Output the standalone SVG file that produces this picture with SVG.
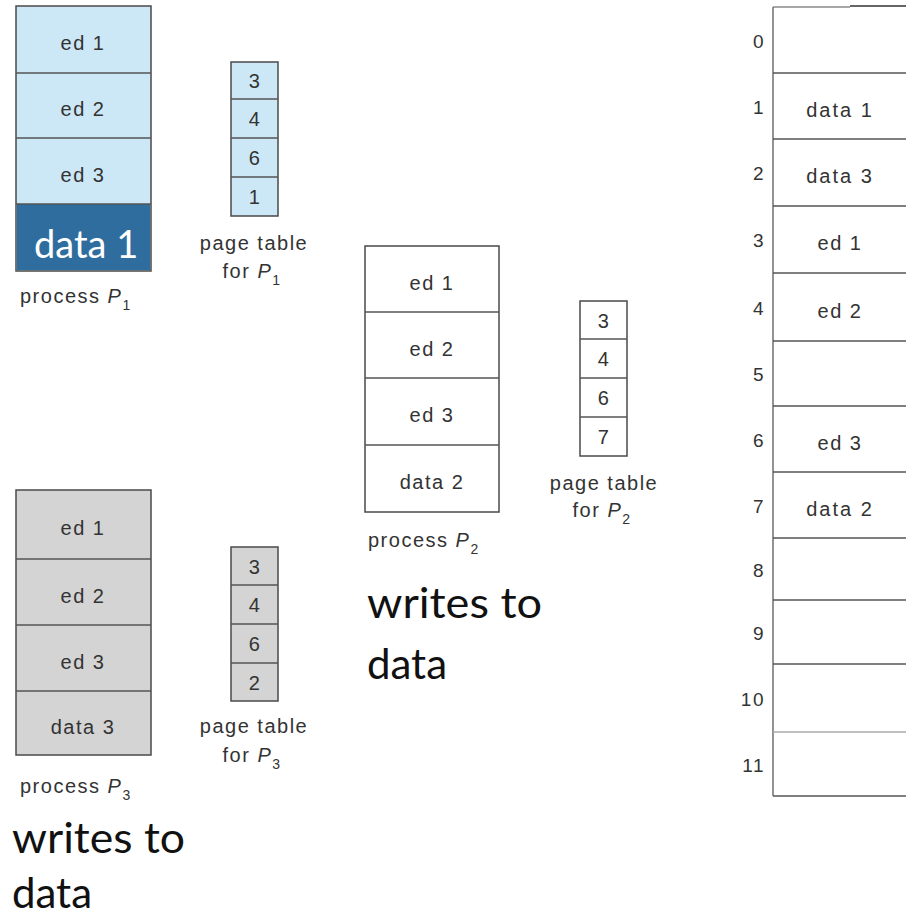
<svg xmlns="http://www.w3.org/2000/svg" width="906" height="921" viewBox="0 0 906 921">
  <style>
    .lbl { font-family: "Liberation Sans", Arial, sans-serif; font-size: 20px; letter-spacing: 1.5px; fill: #333; text-anchor: middle; }
    .cap { font-family: "Liberation Sans", Arial, sans-serif; font-size: 20px; letter-spacing: 1.5px; fill: #333; }
    .num { font-family: "Liberation Sans", Arial, sans-serif; font-size: 19px; letter-spacing: 1.5px; fill: #333; text-anchor: end; }
    .it { font-style: italic; }
    .sub { font-size: 14px; }
    .big { font-family: Lato, "Open Sans", sans-serif; font-size: 42px; fill: #111; }
    .frame { stroke: #4a4a4a; stroke-width: 1.5; }
    .div { stroke: #555; stroke-width: 1.3; }
    .blue { fill: #cce7f6; }
    .gray { fill: #d4d4d4; }
    .white { fill: #ffffff; }
  </style>

  <rect width="906" height="921" fill="#ffffff"/>

  <!-- process P1 -->
  <g id="process-p1">
    <rect class="blue frame" x="16" y="6" width="135" height="265"/>
    <rect x="17" y="204" width="133" height="66" fill="#2f6d9e"/>
    <line class="div" x1="16" y1="73" x2="151" y2="73"/>
    <line class="div" x1="16" y1="138" x2="151" y2="138"/>
    <line class="div" x1="16" y1="204" x2="151" y2="204"/>
    <text class="lbl" x="83" y="50">ed 1</text>
    <text class="lbl" x="83" y="116">ed 2</text>
    <text class="lbl" x="83" y="182">ed 3</text>
    <text class="big" x="34" y="258" style="fill:#ffffff;font-size:38px">data 1</text>
    <text class="cap" x="20" y="303">process <tspan class="it">P</tspan><tspan class="sub" dy="7">1</tspan></text>
  </g>

  <!-- page table for P1 -->
  <g id="pagetable-p1">
    <rect class="blue frame" x="231" y="62" width="47" height="154"/>
    <line class="div" x1="231" y1="99" x2="278" y2="99"/>
    <line class="div" x1="231" y1="138" x2="278" y2="138"/>
    <line class="div" x1="231" y1="177" x2="278" y2="177"/>
    <text class="lbl" x="255" y="88">3</text>
    <text class="lbl" x="255" y="126">4</text>
    <text class="lbl" x="255" y="165">6</text>
    <text class="lbl" x="255" y="204">1</text>
    <text class="lbl" x="254" y="250">page table</text>
    <text class="lbl" x="252" y="278">for <tspan class="it">P</tspan><tspan class="sub" dy="7">1</tspan></text>
  </g>

  <!-- process P2 -->
  <g id="process-p2">
    <rect class="white frame" x="365" y="246" width="134" height="266"/>
    <line class="div" x1="365" y1="312" x2="499" y2="312"/>
    <line class="div" x1="365" y1="378" x2="499" y2="378"/>
    <line class="div" x1="365" y1="445" x2="499" y2="445"/>
    <text class="lbl" x="432" y="290">ed 1</text>
    <text class="lbl" x="432" y="356">ed 2</text>
    <text class="lbl" x="432" y="422">ed 3</text>
    <text class="lbl" x="432" y="489">data 2</text>
    <text class="cap" x="368" y="547">process <tspan class="it">P</tspan><tspan class="sub" dy="7">2</tspan></text>
  </g>

  <!-- page table for P2 -->
  <g id="pagetable-p2">
    <rect class="white frame" x="580" y="301" width="47" height="155"/>
    <line class="div" x1="580" y1="339" x2="627" y2="339"/>
    <line class="div" x1="580" y1="378" x2="627" y2="378"/>
    <line class="div" x1="580" y1="417" x2="627" y2="417"/>
    <text class="lbl" x="604" y="328">3</text>
    <text class="lbl" x="604" y="366">4</text>
    <text class="lbl" x="604" y="405">6</text>
    <text class="lbl" x="604" y="444">7</text>
    <text class="lbl" x="604" y="490">page table</text>
    <text class="lbl" x="602" y="517">for <tspan class="it">P</tspan><tspan class="sub" dy="7">2</tspan></text>
  </g>

  <!-- process P3 -->
  <g id="process-p3">
    <rect class="gray frame" x="16" y="490" width="135" height="265"/>
    <line class="div" x1="16" y1="559" x2="151" y2="559"/>
    <line class="div" x1="16" y1="625" x2="151" y2="625"/>
    <line class="div" x1="16" y1="691" x2="151" y2="691"/>
    <text class="lbl" x="83" y="535">ed 1</text>
    <text class="lbl" x="83" y="603">ed 2</text>
    <text class="lbl" x="83" y="669">ed 3</text>
    <text class="lbl" x="83" y="734">data 3</text>
    <text class="cap" x="20" y="793">process <tspan class="it">P</tspan><tspan class="sub" dy="7">3</tspan></text>
  </g>

  <!-- page table for P3 -->
  <g id="pagetable-p3">
    <rect class="gray frame" x="231" y="547" width="47" height="154"/>
    <line class="div" x1="231" y1="585" x2="278" y2="585"/>
    <line class="div" x1="231" y1="624" x2="278" y2="624"/>
    <line class="div" x1="231" y1="663" x2="278" y2="663"/>
    <text class="lbl" x="255" y="574">3</text>
    <text class="lbl" x="255" y="612">4</text>
    <text class="lbl" x="255" y="651">6</text>
    <text class="lbl" x="255" y="690">2</text>
    <text class="lbl" x="254" y="733">page table</text>
    <text class="lbl" x="252" y="762">for <tspan class="it">P</tspan><tspan class="sub" dy="7">3</tspan></text>
  </g>

  <!-- annotations -->
  <g id="note-p2">
    <text class="big" x="367" y="618" textLength="175" lengthAdjust="spacingAndGlyphs">writes to</text>
    <text class="big" x="367" y="679">data</text>
  </g>
  <g id="note-p3">
    <text class="big" x="12" y="853" textLength="173" lengthAdjust="spacingAndGlyphs">writes to</text>
    <text class="big" x="12" y="908">data</text>
  </g>

  <!-- physical memory frames -->
  <g id="physical-memory">
    <line x1="773" y1="7" x2="850" y2="7" stroke="#8a8a8a" stroke-width="1.5"/>
    <line x1="850" y1="6" x2="906" y2="6" stroke="#333" stroke-width="1.5"/>
    <line x1="773" y1="7" x2="773" y2="796" stroke="#777" stroke-width="1.6"/>
    <line x1="773" y1="796" x2="906" y2="796" stroke="#555" stroke-width="1.5"/>
    <g class="div">
      <line x1="773" y1="73" x2="906" y2="73"/>
      <line x1="773" y1="139" x2="906" y2="139"/>
      <line x1="773" y1="206" x2="906" y2="206"/>
      <line x1="773" y1="273" x2="906" y2="273"/>
      <line x1="773" y1="341" x2="906" y2="341"/>
      <line x1="773" y1="406" x2="906" y2="406"/>
      <line x1="773" y1="472" x2="906" y2="472"/>
      <line x1="773" y1="538" x2="906" y2="538"/>
      <line x1="773" y1="600" x2="906" y2="600"/>
      <line x1="773" y1="664" x2="906" y2="664"/>
      <line x1="773" y1="732" x2="906" y2="732" stroke="#aaa"/>
    </g>
    <text class="num" x="765" y="48">0</text>
    <text class="num" x="765" y="114">1</text>
    <text class="num" x="765" y="180">2</text>
    <text class="num" x="765" y="247">3</text>
    <text class="num" x="765" y="315">4</text>
    <text class="num" x="765" y="381">5</text>
    <text class="num" x="765" y="447">6</text>
    <text class="num" x="765" y="513">7</text>
    <text class="num" x="765" y="577">8</text>
    <text class="num" x="765" y="640">9</text>
    <text class="num" x="765" y="706">10</text>
    <text class="num" x="765" y="772">11</text>
    <text class="lbl" x="840" y="117" style="letter-spacing:2px">data 1</text>
    <text class="lbl" x="840" y="183" style="letter-spacing:2px">data 3</text>
    <text class="lbl" x="840" y="250">ed 1</text>
    <text class="lbl" x="840" y="318">ed 2</text>
    <text class="lbl" x="840" y="450">ed 3</text>
    <text class="lbl" x="840" y="516" style="letter-spacing:2px">data 2</text>
  </g>
</svg>
